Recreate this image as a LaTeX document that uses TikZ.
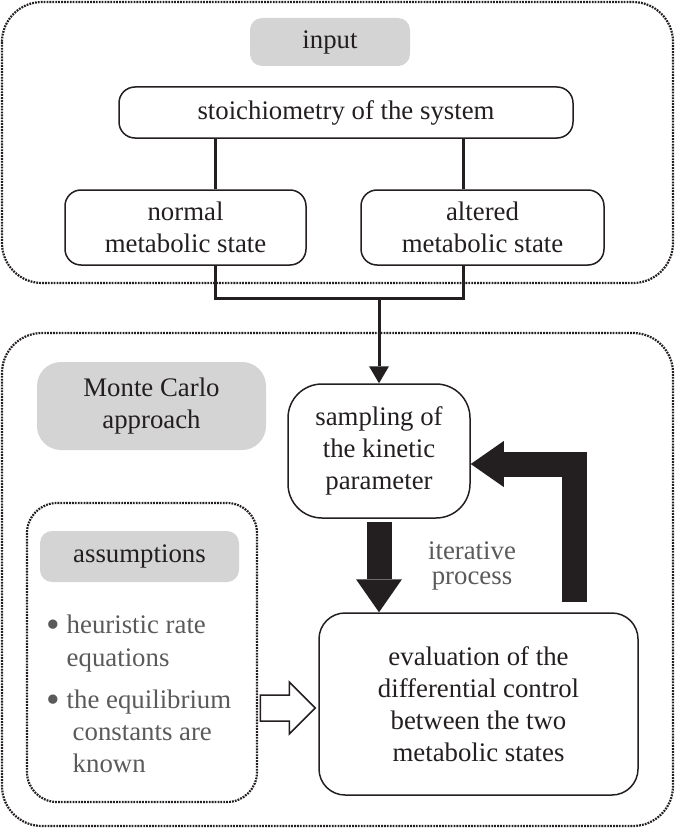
\documentclass[tikz,border=0pt]{standalone}
\usepackage{fontspec}
\setmainfont{Liberation Serif}
\usetikzlibrary{arrows.meta, positioning}
\definecolor{boxgray}{HTML}{D4D4D4}
\definecolor{txtgray}{HTML}{5A5A5A}
\definecolor{ink}{HTML}{231F20}
\newcommand{\itemdot}{\raisebox{-2.3pt}{\scalebox{1.45}{\textbullet}}}

\begin{document}
\begin{tikzpicture}[x=0.5pt, y=-0.5pt,
    every node/.style={font=\fontsize{13.4}{16}\selectfont, text=ink, align=center},
    frame/.style={draw=ink, line width=1.1pt, dash pattern=on 0.9pt off 0.55pt, rounded corners=20pt},
    stepbox/.style={draw=ink, line width=0.75pt, rounded corners=8pt, inner sep=0pt},
    tag/.style={fill=boxgray, rounded corners=6pt, inner sep=0pt},
    link/.style={draw=ink, line width=1.5pt},
    bigarrow/.style={draw=ink, line width=12.5pt, -{Triangle[width=23pt, length=16.5pt, line width=0pt]}},
    note/.style={text=txtgray, align=left, anchor=north west, inner sep=0pt},
]
    \useasboundingbox (0,0) rectangle (676,829);

    % Dotted frames
    \draw[frame] (2,2) rectangle (673,283);
    \draw[frame] (2,333) rectangle (673,826);
    \draw[frame, rounded corners=15pt] (27,503) rectangle (257,802);

    % Input part
    \node[tag, minimum width=80pt, minimum height=24pt] (input) at (330,42) {input};
    \node[stepbox, minimum width=227pt, minimum height=25.5pt] (stoich) at (346,112.5) {stoichiometry of the system};
    \node[stepbox, minimum width=120.5pt, minimum height=37.5pt] (normal) at (185.5,227.5) {normal\\metabolic state};
    \node[stepbox, minimum width=121.5pt, minimum height=37.5pt] (altered) at (482.5,227.5) {altered\\metabolic state};

    % Monte Carlo part
    \node[tag, rounded corners=12pt, minimum width=114.5pt, minimum height=44pt] (monte) at (151.5,406) {Monte Carlo\\approach};
    \node[stepbox, rounded corners=17pt, minimum width=91pt, minimum height=67pt] (sampling) at (379,451) {sampling of\\the kinetic\\parameter};
    \node[stepbox, rounded corners=13pt, minimum width=159.5pt, minimum height=91pt] (eval) at (478.5,704) {evaluation of the\\differential control\\between the two\\metabolic states};
    \node[text=txtgray, font=\fontsize{13.4}{12.5}\selectfont] (iter) at (472,566) {iterative\\process};

    % Assumptions
    \node[tag, minimum width=99.5pt, minimum height=25.5pt] (assum) at (139.5,556.5) {assumptions};
    \node[note, font=\fontsize{13.4}{16.5}\selectfont] (rate) at (46,614) {\itemdot\ heuristic rate\\\phantom{\itemdot\ }equations};
    \node[note, font=\fontsize{13.4}{16}\selectfont] (equil) at (46,689) {\itemdot\ the equilibrium\\\phantom{\itemdot\ }\hspace{3pt}constants are\\\phantom{\itemdot\ }\hspace{3pt}known};

    % Connectors
    \coordinate (jl) at (215,298);
    \coordinate (jr) at (463.5,298);
    \draw[link] (stoich.south -| jl) -- (normal.north -| jl);
    \draw[link] (stoich.south -| jr) -- (altered.north -| jr);
    \draw[link] (normal.south -| jl) -- (jl) -- (jr) -- (altered.south -| jr);
    \draw[link, -{Triangle[width=10pt, length=8.5pt, line width=0pt]}] (jl -| sampling) -- (sampling.north);

    % Iteration arrows
    \coordinate (ret) at (574.5,464);
    \draw[bigarrow] ([yshift=-1.5pt]sampling.south) -- (eval.north -| sampling);
    \draw[bigarrow] ([yshift=5pt]eval.north -| ret) -- (ret) -- (sampling.east |- ret);

    % Hollow arrow into evaluation
    \draw[ink, line width=0.75pt, fill=white, shift={(eval.west)}] (-58,-9) -- (-29,-9) -- (-29,-22) -- (-3,4) -- (-29,30) -- (-29,17) -- (-58,17) -- cycle;
\end{tikzpicture}
\end{document}
